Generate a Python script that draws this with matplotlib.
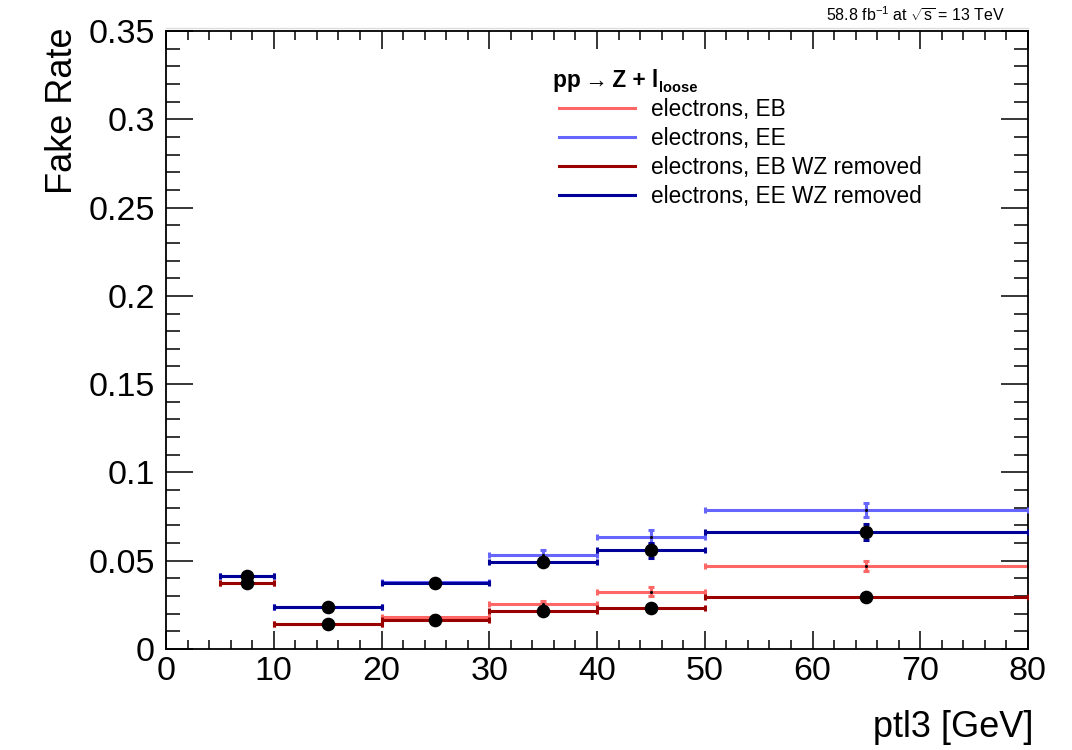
import matplotlib
matplotlib.use("Agg")
import matplotlib.pyplot as plt
from matplotlib.lines import Line2D
import numpy as np

plt.rcParams['font.family'] = ['Liberation Sans', 'DejaVu Sans']
plt.rcParams['mathtext.fontset'] = 'custom'
plt.rcParams['mathtext.rm'] = 'Liberation Sans'
plt.rcParams['mathtext.it'] = 'Liberation Sans:italic'
plt.rcParams['mathtext.bf'] = 'Liberation Sans:bold'

# pT bins of the third lepton
bin_lo = [5, 10, 20, 30, 40, 50]
bin_hi = [10, 20, 30, 40, 50, 80]

# fake rates and stat. errors
eb = [0.0373, 0.0140, 0.0183, 0.0255, 0.0325, 0.0471]
eb_err = [0.0010, 0.0008, 0.0010, 0.0015, 0.0024, 0.0027]
ee = [0.0416, 0.0237, 0.0380, 0.0533, 0.0634, 0.0787]
ee_err = [0.0015, 0.0010, 0.0015, 0.0025, 0.0038, 0.0040]
eb_wz = [0.0373, 0.0140, 0.0166, 0.0214, 0.0233, 0.0295]
eb_wz_err = [0.0010, 0.0008, 0.0010, 0.0010, 0.0010, 0.0010]
ee_wz = [0.0416, 0.0237, 0.0376, 0.0492, 0.0558, 0.0664]
ee_wz_err = [0.0015, 0.0010, 0.0015, 0.0020, 0.0040, 0.0044]

labels = ['electrons, EB', 'electrons, EE',
          'electrons, EB WZ removed', 'electrons, EE WZ removed']
colors = ['#ff6666', '#6666ff', '#990000', '#000099']

lo = np.array(bin_lo, float)
hi = np.array(bin_hi, float)
xc = (lo + hi) / 2
xw = (hi - lo) / 2

fig = plt.figure(figsize=(10.72, 7.5), dpi=100)
ax = fig.add_axes([166/1072, 1-649/750, 862/1072, 618/750])

series = [(eb, eb_err), (ee, ee_err), (eb_wz, eb_wz_err), (ee_wz, ee_wz_err)]
for i, ((y, ye), c) in enumerate(zip(series, colors)):
    wz = i >= 2
    ax.errorbar(xc, y, xerr=xw, yerr=ye, fmt='none', ecolor=c,
                elinewidth=2.2, capsize=2.2, capthick=2.2, zorder=2 + i)
    if wz:
        ax.plot(xc, y, 'o', color='black', ms=8.8, zorder=10)
    else:
        ax.plot(xc, y, 'o', color='black', ms=1.2, zorder=10)

ax.set_xlim(0, 80)
ax.set_ylim(0, 0.35)
ax.set_xticks(np.arange(0, 81, 10))
ax.set_xticks(np.arange(0, 81, 2), minor=True)
ax.set_yticks(np.arange(0, 0.351, 0.05))
ax.set_yticks(np.arange(0, 0.351, 0.01), minor=True)
ax.set_xticklabels(['0', '10', '20', '30', '40', '50', '60', '70', '80'])
ax.set_yticklabels(['0', '0.05', '0.1', '0.15', '0.2', '0.25', '0.3', '0.35'])

ax.tick_params(which='both', direction='in', top=True, right=True,
               width=1.1, labelsize=24.5, colors='black')
ax.tick_params(axis='x', which='major', length=13, pad=5)
ax.tick_params(axis='x', which='minor', length=6.5)
ax.tick_params(axis='y', which='major', length=19.5, pad=8)
ax.tick_params(axis='y', which='minor', length=10)
for s in ax.spines.values():
    s.set_linewidth(1.3)

ax.set_xlabel('ptl3 [GeV]', fontsize=26, loc='right')
ax.set_ylabel('Fake Rate', fontsize=26, loc='top')
ax.xaxis.set_label_coords(1.006, -0.098)
ax.yaxis.set_label_coords(-0.1, 1.005)

# legend
handles = [Line2D([], [], color=c, lw=2.2) for c in colors]
ax.legend(handles, labels, loc='upper left', frameon=False, fontsize=16.3,
          bbox_to_anchor=(559/1072, 1-98/750), bbox_transform=fig.transFigure,
          borderpad=0, borderaxespad=0, handlelength=3.35, handletextpad=0.72,
          labelspacing=0.26)

t = fig.text(553/1072, 1-87/750, 'pp\u2009\u2192\u2009Z + l', fontsize=16.3,
             fontweight='bold', ha='left', va='baseline')
fig.canvas.draw()
bb = t.get_window_extent()
fig.text(bb.x1/1072 + 0.5/1072, 1-92/750, 'loose', fontsize=10.5,
         fontweight='bold', ha='left', va='baseline')

fig.text(1005/1072, 1-15/750, r'58.8 fb$^{-1}$ at $\sqrt{\mathrm{s}}$ = 13 TeV',
         fontsize=11.5, ha='right', va='center')
fig.add_artist(Line2D([166/1072, 1028/1072], [1-28/750, 1-28/750],
                      transform=fig.transFigure, color='#dddddd', lw=1))

fig.savefig('out.png', dpi=100)
